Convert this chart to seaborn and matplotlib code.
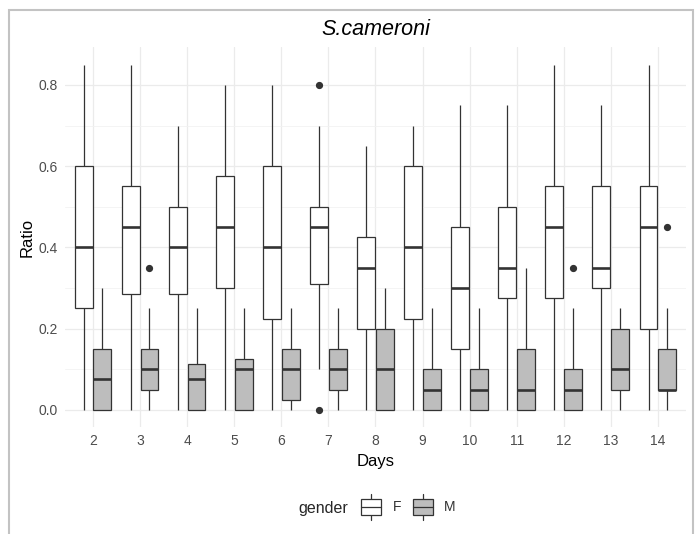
import numpy as np
import pandas as pd
import matplotlib
matplotlib.use("Agg")
import matplotlib.pyplot as plt
import seaborn as sns
from matplotlib.patches import Patch, Rectangle
from matplotlib.lines import Line2D
from matplotlib.legend_handler import HandlerBase
from matplotlib.ticker import MultipleLocator, FormatStrFormatter

# ---- box summaries per day (whisker low, Q1, median, Q3, whisker high) ----
days = [2, 3, 4, 5, 6, 7, 8, 9, 10, 11, 12, 13, 14]

f_lo = [0.00, 0.00, 0.00, 0.00, 0.00, 0.10, 0.00, 0.00, 0.00, 0.00, 0.00, 0.00, 0.00]
f_q1 = [0.25, 0.285, 0.285, 0.30, 0.225, 0.31, 0.20, 0.225, 0.15, 0.275, 0.275, 0.30, 0.20]
f_med = [0.40, 0.45, 0.40, 0.45, 0.40, 0.45, 0.35, 0.40, 0.30, 0.35, 0.45, 0.35, 0.45]
f_q3 = [0.60, 0.55, 0.50, 0.575, 0.60, 0.50, 0.425, 0.60, 0.45, 0.50, 0.55, 0.55, 0.55]
f_hi = [0.85, 0.85, 0.70, 0.80, 0.80, 0.70, 0.65, 0.70, 0.75, 0.75, 0.85, 0.75, 0.85]
f_outliers = {7: [0.0, 0.8]}

m_lo = [0.00, 0.00, 0.00, 0.00, 0.00, 0.00, 0.00, 0.00, 0.00, 0.00, 0.00, 0.00, 0.00]
m_q1 = [0.00, 0.05, 0.00, 0.00, 0.025, 0.05, 0.00, 0.00, 0.00, 0.00, 0.00, 0.05, 0.05]
m_med = [0.075, 0.10, 0.075, 0.10, 0.10, 0.10, 0.10, 0.05, 0.05, 0.05, 0.05, 0.10, 0.05]
m_q3 = [0.15, 0.15, 0.1125, 0.125, 0.15, 0.15, 0.20, 0.10, 0.10, 0.15, 0.10, 0.20, 0.15]
m_hi = [0.30, 0.25, 0.25, 0.25, 0.25, 0.25, 0.30, 0.25, 0.25, 0.35, 0.25, 0.25, 0.25]
m_outliers = {3: [0.35], 12: [0.35], 14: [0.45]}

genders = ["F", "M"]
fill_colors = {"F": "#FFFFFF", "M": "#BDBDBD"}
ink = "#333333"


def box_sample(lo, q1, med, q3, hi, extra, k=20):
    """Observations whose quartiles/whiskers reproduce the given summary."""
    return [lo] * k + [q1] * k + [med] * k + [q3] * k + [hi] * k + list(extra)


rows = []
summaries = {
    "F": (f_lo, f_q1, f_med, f_q3, f_hi, f_outliers),
    "M": (m_lo, m_q1, m_med, m_q3, m_hi, m_outliers),
}
for g, (lo, q1, med, q3, hi, outl) in summaries.items():
    for i, d in enumerate(days):
        for v in box_sample(lo[i], q1[i], med[i], q3[i], hi[i], outl.get(d, [])):
            rows.append({"Days": str(d), "gender": g, "Ratio": v})
df = pd.DataFrame(rows)

# ---- figure ----
sns.set_theme(style="white")
plt.rcParams["font.family"] = ["Liberation Sans", "DejaVu Sans"]

fig = plt.figure(figsize=(6.96, 5.34), dpi=100)
ax = fig.add_axes([0.0930, 0.2000, 0.8929, 0.7114])

sns.boxplot(
    data=df, x="Days", y="Ratio", hue="gender",
    order=[str(d) for d in days], hue_order=genders,
    palette=fill_colors, saturation=1,
    width=0.8, gap=0.05, linewidth=0.9, linecolor=ink,
    showcaps=False, fliersize=4.2,
    flierprops=dict(marker="o", markerfacecolor=ink, markeredgecolor=ink),
    medianprops=dict(linewidth=1.9, color=ink),
    legend=False, ax=ax,
)

ax.set_xlim(-0.6, len(days) - 0.4)
ax.set_ylim(-0.0425, 0.8925)
ax.yaxis.set_major_locator(MultipleLocator(0.2))
ax.yaxis.set_minor_locator(MultipleLocator(0.1))
ax.yaxis.set_major_formatter(FormatStrFormatter("%.1f"))

ax.set_axisbelow(True)
ax.grid(which="major", axis="both", color="#EBEBEB", linewidth=0.9)
ax.grid(which="minor", axis="y", color="#F2F2F2", linewidth=0.6)
for s in ax.spines.values():
    s.set_visible(False)
ax.tick_params(which="both", length=0, labelsize=10, labelcolor="#4D4D4D", pad=5)

ax.set_xlabel("Days", fontsize=12, color="black", va="center")
ax.set_ylabel("Ratio", fontsize=12, color="black", va="center")
ax.xaxis.set_label_coords(0.5, -0.091)
ax.yaxis.set_label_coords(-0.0608, 0.5)

ax.text(0.5, 1.048, "S.cameroni", transform=ax.transAxes, fontsize=15.5,
        fontstyle="italic", ha="center", va="center", color="black")


# ---- legend with boxplot-shaped keys ----
class BoxKey(HandlerBase):
    def create_artists(self, legend, orig_handle, xdescent, ydescent,
                       width, height, fontsize, trans):
        x0, y0 = -xdescent, -ydescent
        cx = x0 + width / 2
        fc = orig_handle.get_facecolor()
        box = Rectangle((x0 + 0.125 * width, y0 + 0.25 * height), 0.75 * width,
                        0.5 * height, facecolor=fc, edgecolor=ink, lw=0.9,
                        transform=trans)
        med = Line2D([x0 + 0.125 * width, x0 + 0.875 * width],
                     [y0 + 0.5 * height] * 2, color=ink, lw=0.9, transform=trans)
        w_lo = Line2D([cx, cx], [y0 + 0.1 * height, y0 + 0.25 * height],
                      color=ink, lw=0.9, transform=trans)
        w_hi = Line2D([cx, cx], [y0 + 0.75 * height, y0 + 0.9 * height],
                      color=ink, lw=0.9, transform=trans)
        return [w_lo, w_hi, box, med]


handles = [Patch(facecolor=fill_colors[g], label=g) for g in genders]
leg = fig.legend(
    handles=handles, labels=genders, handler_map={Patch: BoxKey()},
    loc="center left", bbox_to_anchor=(358 / 696, 1 - 507 / 534),
    ncol=2, frameon=False, fontsize=10, handlelength=1.9, handleheight=3.1,
    handletextpad=0.6, columnspacing=0.6, borderpad=0, borderaxespad=0,
)
for t in leg.get_texts():
    t.set_color("#333333")
fig.text(348 / 696, 1 - 508 / 534, "gender", fontsize=11.5, ha="right", va="center")

# light frame around the figure
fig.add_artist(Rectangle((9 / 696, -0.1), (693 - 9) / 696, 1 - 10 / 534 + 0.1,
                         transform=fig.transFigure, fill=False,
                         edgecolor="#C3C3C3", linewidth=1.5))

fig.savefig("out.png", dpi=100)
